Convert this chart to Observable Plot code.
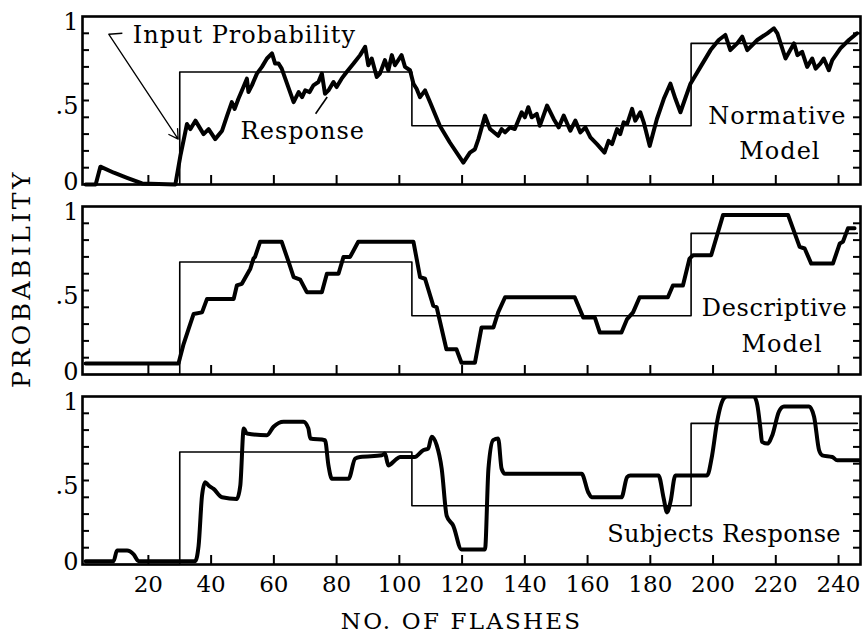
<!DOCTYPE html>
<html>
<head>
<meta charset="utf-8">
<script src="https://cdn.jsdelivr.net/npm/d3@7"></script>
<script src="https://cdn.jsdelivr.net/npm/@observablehq/plot@0.6"></script>
<style>
  html, body { margin: 0; padding: 0; background: #fff; }
  #chart svg { display: block; }
</style>
</head>
<body>
<div id="chart"></div>
<script>
// ---- data ----
const panels = ["Normative", "Descriptive", "Subjects"];
const xTicks = [20, 40, 60, 80, 100, 120, 140, 160, 180, 200, 220, 240];
const yMinorTicks = [0.1, 0.2, 0.3, 0.4, 0.5, 0.6, 0.7, 0.8, 0.9];
const yLabelValues = [0, 0.5, 1];
const yLabelText = ["0", ".5", "1"];

// input probability (step function, same in every panel)
const inputX = [0, 30, 104, 193, 246];
const inputY = [0, 0.67, 0.35, 0.84, 0.84];

// normative model response [flash, probability]
const normativeResponse = [[0,0],[3.2,0],[4.7,0.106],[9,0.07],[13.2,0.04],[18,0.006],[28.6,0],[30.2,0.17],[32.3,0.36],[33.4,0.33],[35.0,0.38],[37.6,0.30],[39.2,0.33],[41.3,0.27],[43.5,0.32],[45.1,0.41],[46.6,0.49],[47.5,0.45],[48.7,0.51],[50.3,0.58],[51.4,0.63],[51.9,0.55],[53.0,0.59],[54.6,0.66],[56.2,0.70],[57.8,0.75],[59.4,0.78],[60.4,0.72],[61.5,0.72],[62.5,0.69],[66.3,0.49],[67.9,0.55],[69.0,0.52],[70.0,0.56],[71.4,0.55],[72.6,0.59],[74.2,0.61],[75.3,0.66],[76.3,0.54],[77.4,0.56],[79.0,0.61],[80.0,0.58],[81.6,0.63],[83.2,0.67],[85.4,0.72],[87.5,0.77],[89.1,0.82],[90.1,0.71],[91.2,0.75],[92.8,0.64],[93.8,0.66],[95.4,0.74],[96.5,0.68],[97.6,0.77],[98.6,0.71],[100.7,0.77],[101.8,0.70],[103.4,0.68],[104.5,0.60],[105.5,0.57],[106.6,0.52],[108.2,0.56],[109.8,0.49],[112.9,0.35],[116.1,0.25],[120.4,0.13],[122.5,0.19],[124.1,0.21],[125.2,0.27],[127.3,0.41],[128.9,0.33],[131.5,0.29],[132.6,0.33],[133.7,0.31],[135.3,0.34],[136.8,0.33],[139.0,0.43],[140.0,0.40],[141.1,0.46],[142.2,0.40],[143.8,0.42],[144.8,0.35],[147.1,0.47],[149.2,0.39],[150.8,0.34],[152.4,0.41],[154.5,0.32],[156.1,0.38],[157.7,0.31],[159.3,0.34],[160.9,0.28],[163.0,0.24],[165.4,0.19],[166.7,0.26],[167.8,0.24],[169.4,0.33],[170.4,0.30],[171.5,0.37],[172.6,0.36],[174.2,0.45],[175.2,0.38],[176.8,0.43],[177.9,0.37],[179.8,0.23],[182.1,0.39],[184.3,0.51],[186.4,0.60],[188.0,0.51],[189.6,0.43],[190.9,0.50],[192.8,0.60],[196.0,0.70],[199.2,0.80],[201.8,0.86],[203.9,0.89],[205.5,0.80],[207.7,0.84],[209.3,0.88],[210.9,0.80],[214.1,0.86],[217.3,0.90],[219.4,0.93],[220.5,0.90],[223.1,0.75],[225.8,0.84],[226.9,0.77],[228.4,0.79],[230.0,0.70],[231.6,0.75],[232.7,0.69],[234.2,0.72],[235.3,0.75],[236.9,0.68],[238.0,0.74],[240.6,0.81],[243.3,0.86],[245.9,0.90]];

// descriptive model response
const descriptiveResponse = [[0,0.066],[29.6,0.066],[31.2,0.18],[32.8,0.27],[34.4,0.36],[37.1,0.37],[38.7,0.45],[47.2,0.45],[48.2,0.53],[49.8,0.54],[52.5,0.63],[53.5,0.69],[54.0,0.70],[55.6,0.79],[62.5,0.79],[64.7,0.67],[66.3,0.58],[68.4,0.565],[70.5,0.49],[75.3,0.49],[76.9,0.60],[80.6,0.60],[82.2,0.70],[84.3,0.70],[86.9,0.79],[104.5,0.79],[106.6,0.58],[108.2,0.57],[110.8,0.41],[111.9,0.40],[115.0,0.15],[118.2,0.15],[119.8,0.07],[124.1,0.07],[126.2,0.28],[130.0,0.28],[131.5,0.37],[133.7,0.46],[155.9,0.46],[158.6,0.34],[162.3,0.34],[163.9,0.25],[170.8,0.25],[172.6,0.33],[174.5,0.37],[176.6,0.46],[185.6,0.46],[187.2,0.53],[190.4,0.53],[192.5,0.69],[193.6,0.71],[199.4,0.71],[203.2,0.95],[223.9,0.95],[227.6,0.76],[229.2,0.75],[231.3,0.66],[238.2,0.66],[240.4,0.78],[241.4,0.79],[243.0,0.87],[245.1,0.87]];

// subjects' response
const subjectsResponse = [[0,0.02],[8.9,0.02],[10.0,0.083],[13.2,0.083],[15.3,0.06],[16.9,0.02],[34.9,0.02],[36.0,0.11],[37.1,0.41],[38.1,0.49],[39.2,0.47],[40.8,0.45],[43.5,0.40],[48.2,0.39],[49.3,0.47],[50.4,0.81],[51.4,0.78],[57.8,0.77],[59.9,0.82],[63.1,0.85],[69.4,0.85],[71.0,0.81],[71.6,0.75],[76.3,0.74],[77.4,0.59],[78.5,0.51],[83.8,0.51],[85.9,0.63],[87.5,0.64],[94.4,0.65],[95.4,0.66],[96.5,0.59],[98.6,0.62],[100.2,0.64],[104.9,0.64],[107.6,0.68],[109.2,0.69],[110.3,0.76],[111.9,0.71],[113.5,0.57],[115.1,0.29],[117.2,0.23],[119.8,0.09],[127.3,0.09],[128.4,0.57],[129.9,0.74],[131.5,0.75],[132.6,0.57],[133.7,0.54],[158.1,0.54],[160.2,0.43],[161.3,0.40],[170.8,0.40],[172.6,0.52],[173.6,0.53],[182.6,0.53],[184.3,0.39],[185.3,0.31],[186.4,0.37],[188.0,0.53],[198.1,0.53],[199.7,0.65],[201.3,0.85],[203.5,0.99],[204.5,1.0],[213.0,1.0],[214.1,0.95],[215.1,0.81],[215.6,0.73],[217.3,0.72],[218.9,0.77],[221.0,0.91],[222.6,0.94],[230.6,0.94],[232.2,0.88],[233.8,0.68],[234.8,0.65],[238.0,0.64],[239.6,0.62],[246.5,0.62]];

// annotations
const labelsStart = [
  {text: "Input Probability", x: 15.0, y: 0.84, panel: "Normative"},
  {text: "Response", x: 49.4, y: 0.27, panel: "Normative"},
  {text: "Subjects Response", x: 166.3, y: 0.133, panel: "Subjects"}
];
const labelsMiddle = [
  {text: "Normative", x: 220.5, y: 0.361, panel: "Normative"},
  {text: "Model", x: 221.3, y: 0.151, panel: "Normative"},
  {text: "Descriptive", x: 219.6, y: 0.351, panel: "Descriptive"},
  {text: "Model", x: 222, y: 0.132, panel: "Descriptive"}
];
const pointerArrows = [{x1: 7.4, y1: 0.894, x2: 29.5, y2: 0.27, panel: "Normative"}];
const pointerLines = [
  {x1: 7.4, y1: 0.894, x2: 11.7, y2: 0.90, panel: "Normative"},
  {x1: 73.3, y1: 0.421, x2: 77.0, y2: 0.521, panel: "Normative"}
];
const yTitle = "PROBABILITY";
const xTitle = "NO. OF FLASHES";

// ---- layout ----
const W = 864, H = 639, mL = 82, mR = 4, mT = 15, mB = 75, padInner = 0.118;
const plotW = W - mL - mR;
const bandH = (H - mT - mB) / (panels.length - padInner) * (1 - padInner);
const tickLenY = 7, tickLenX = 9;

// ---- build tables ----
const inputRows = panels.flatMap(p => inputX.map((x, i) => ({x, y: inputY[i], panel: p})));
const toRows = (pairs, panel) => pairs.map(([x, y]) => ({x, y, panel}));
const normRows = toRows(normativeResponse, "Normative");
const descRows = toRows(descriptiveResponse, "Descriptive");
const subjRows = toRows(subjectsResponse, "Subjects");
const yTickRows = panels.flatMap(p => yMinorTicks.map(v => ({v, panel: p})));
const xTickRows = panels.flatMap(p => xTicks.map(v => ({v, panel: p})));
const yLabel = v => yLabelText[yLabelValues.indexOf(v)];

const font = "'DejaVu Serif', 'Liberation Serif', serif";

const chart = Plot.plot({
  width: W,
  height: H,
  marginLeft: mL,
  marginRight: mR,
  marginTop: mT,
  marginBottom: mB,
  style: {fontFamily: font, background: "#fff", color: "#000"},
  x: {domain: [-1, 247], axis: null},
  y: {domain: [0, 1], axis: null},
  fy: {domain: panels, paddingInner: padInner, paddingOuter: 0, axis: null},
  marks: [
    Plot.line(inputRows, {x: "x", y: "y", fy: "panel", curve: "step-after", stroke: "#000", strokeWidth: 1.6}),
    Plot.line(normRows, {x: "x", y: "y", fy: "panel", stroke: "#000", strokeWidth: 4, strokeLinejoin: "round"}),
    Plot.line(descRows, {x: "x", y: "y", fy: "panel", stroke: "#000", strokeWidth: 4, strokeLinejoin: "round"}),
    Plot.line(subjRows, {x: "x", y: "y", fy: "panel", stroke: "#000", strokeWidth: 4, curve: "monotone-x", clip: true}),
    Plot.frame({stroke: "#000", strokeWidth: 2.6}),
    // inward ticks on left, right and bottom of every panel
    Plot.tickY(yTickRows, {y: "v", fy: "panel", insetRight: plotW - tickLenY, stroke: "#000", strokeWidth: 2}),
    Plot.tickY(yTickRows, {y: "v", fy: "panel", insetLeft: plotW - tickLenY, stroke: "#000", strokeWidth: 2}),
    Plot.tickX(xTickRows, {x: "v", fy: "panel", insetTop: bandH - tickLenX, stroke: "#000", strokeWidth: 2}),
    // tick labels
    Plot.axisY([yLabelValues[0]], {anchor: "left", tickSize: 0, tickPadding: 4, dy: -2, fontSize: 24, tickFormat: yLabel, label: null}),
    Plot.axisY([yLabelValues[1]], {anchor: "left", tickSize: 0, tickPadding: 4, dy: 6, fontSize: 24, tickFormat: yLabel, label: null}),
    Plot.axisY([yLabelValues[2]], {anchor: "left", tickSize: 0, tickPadding: 4, dy: 6, fontSize: 24, tickFormat: yLabel, label: null}),
    Plot.axisX(xTicks, {anchor: "bottom", tickSize: 0, tickPadding: 11, fontSize: 23, label: null}),
    // pointers and annotations
    Plot.arrow(pointerArrows, {x1: "x1", y1: "y1", x2: "x2", y2: "y2", fy: "panel", stroke: "#000", strokeWidth: 1.3, headLength: 12}),
    Plot.link(pointerLines, {x1: "x1", y1: "y1", x2: "x2", y2: "y2", fy: "panel", stroke: "#000", strokeWidth: 1.6}),
    Plot.text(labelsStart, {x: "x", y: "y", fy: "panel", text: "text", textAnchor: "start", lineAnchor: "bottom",
      fontSize: 24, fill: "#000"}),
    Plot.text(labelsMiddle, {x: "x", y: "y", fy: "panel", text: "text", textAnchor: "middle", lineAnchor: "bottom",
      fontSize: 24, fill: "#000"}),
    // axis titles
    Plot.text([{t: yTitle, panel: "Descriptive"}], {text: "t", fy: "panel", frameAnchor: "left", rotate: -90,
      dx: -61, dy: -12, fontSize: 25, textAnchor: "middle", lineAnchor: "middle", fill: "#000"}),
    Plot.text([{t: xTitle, panel: "Subjects"}], {text: "t", fy: "panel", frameAnchor: "bottom",
      dx: -10, dy: 57, fontSize: 23, textAnchor: "middle", lineAnchor: "middle", fill: "#000"})
  ]
});

// wider letter tracking, as in the hand-lettered original
const tracking = {"Subjects Response": "0.3px", "Descriptive": "0.6px"};
const annotationTexts = [...labelsStart, ...labelsMiddle].map(d => d.text);
d3.select(chart).selectAll("text").each(function() {
  const t = this.textContent;
  if (annotationTexts.includes(t)) this.setAttribute("letter-spacing", tracking[t] || "1px");
  else if (t === yTitle) this.setAttribute("letter-spacing", "3.5px");
  else if (t === xTitle) this.setAttribute("letter-spacing", "2.2px");
});
document.getElementById("chart").appendChild(chart);
</script>
</body>
</html>
